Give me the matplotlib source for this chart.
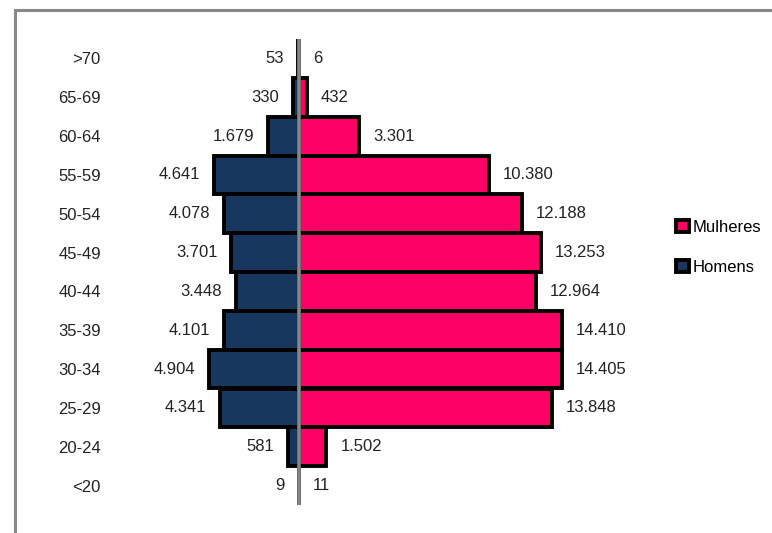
import numpy as np
import matplotlib
matplotlib.use('agg')
import matplotlib.pyplot as plt
from matplotlib.patches import Rectangle, Patch

plt.rcParams['font.family'] = ['Liberation Sans', 'DejaVu Sans']

age_groups = ['>70', '65-69', '60-64', '55-59', '50-54', '45-49',
              '40-44', '35-39', '30-34', '25-29', '20-24', '<20']
homens = [53, 330, 1679, 4641, 4078, 3701, 3448, 4101, 4904, 4341, 581, 9]
mulheres = [6, 432, 3301, 10380, 12188, 13253, 12964, 14410, 14405, 13848, 1502, 11]

PINK = '#FF0066'
NAVY = '#17375E'
W, H = 772, 533


def fmt(v: int) -> str:
    return f"{v:,}".replace(",", ".")


fig = plt.figure(figsize=(W / 100, H / 100), dpi=100)

# gray frame, cut off at right and bottom like the source
fig.patches.append(Rectangle((14.5 / W, -0.1), 1.2, 1 - 10 / H + 0.1,
                             transform=fig.transFigure, fill=False,
                             edgecolor='#888888', linewidth=2.2, zorder=0))

ax = fig.add_axes([105 / W, 28 / H, (665 - 105) / W, (505 - 39) / H])
ax.set_xlim(-10620, 20040)
ax.set_ylim(len(age_groups) - 0.5, -0.5)

y = np.arange(len(age_groups))
ax.barh(y, [-v for v in homens], height=1.0, color=NAVY, edgecolor='black', linewidth=2.8, zorder=2)
ax.barh(y, mulheres, height=1.0, color=PINK, edgecolor='black', linewidth=2.8, zorder=2)
ax.axvline(0, color='#888888', linewidth=2.6, zorder=4)

for yi, h, m in zip(y, homens, mulheres):
    ax.annotate(fmt(h), (-h, yi), xytext=(-10, 0), textcoords='offset points',
                ha='right', va='center', fontsize=12, color='#222222')
    ax.annotate(fmt(m), (m, yi), xytext=(10, 0), textcoords='offset points',
                ha='left', va='center', fontsize=12, color='#222222')

ax.set_yticks(y)
ax.set_yticklabels(age_groups, fontsize=12, color='#222222')
ax.tick_params(axis='y', length=0, pad=3)
ax.set_xticks([])
for s in ax.spines.values():
    s.set_visible(False)

handles = [Patch(facecolor=PINK, edgecolor='black', linewidth=2.8, label='Mulheres'),
           Patch(facecolor=NAVY, edgecolor='black', linewidth=2.8, label='Homens')]
fig.legend(handles=handles, loc='center left', bbox_to_anchor=(676 / W, 1 - 247 / H),
           frameon=False, fontsize=12, handlelength=0.75, handleheight=0.75,
           handletextpad=0.25, labelspacing=1.5, borderpad=0, borderaxespad=0)

fig.savefig('out.png', dpi=100)
